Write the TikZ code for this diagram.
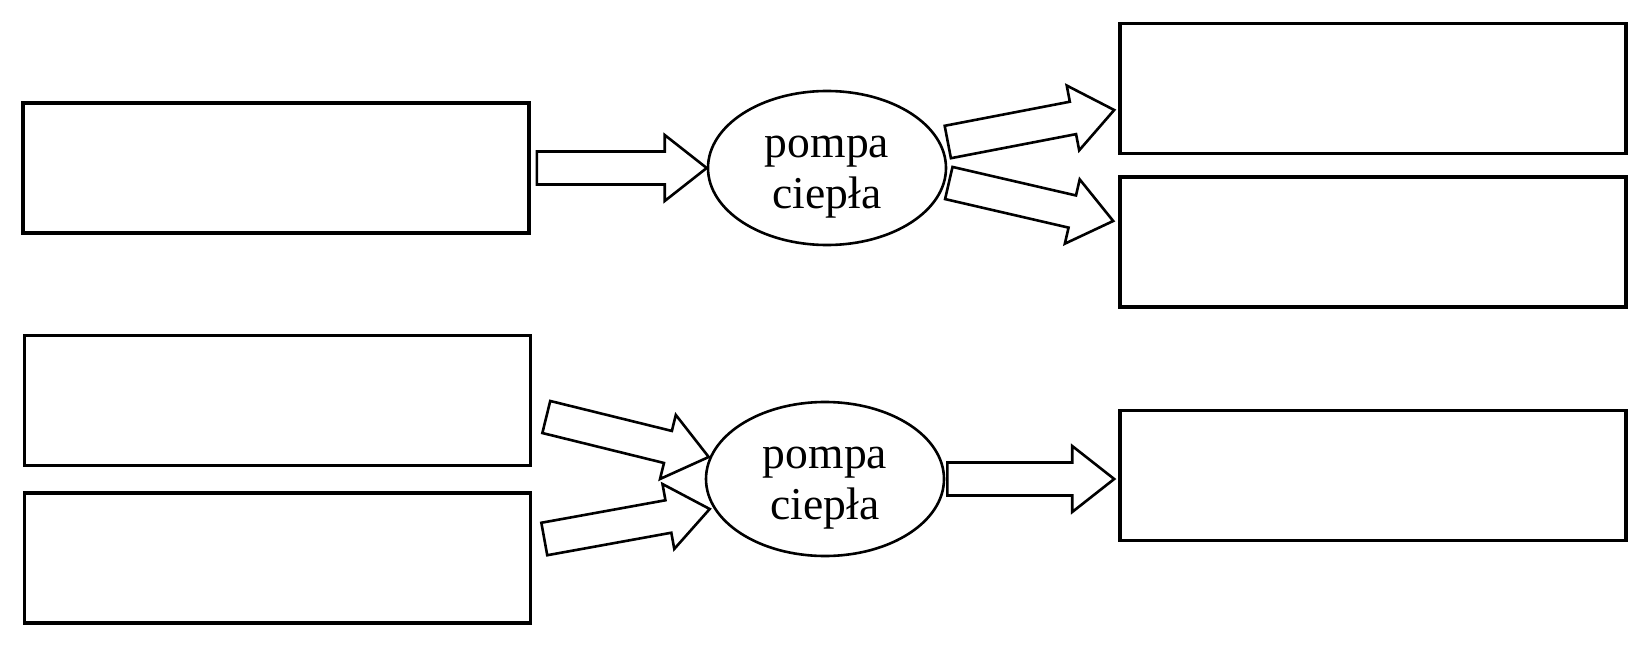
\documentclass[tikz,border=0pt]{standalone}
\usepackage{fontspec}
\setmainfont{Liberation Serif}
\usetikzlibrary{calc,shapes.geometric}

\tikzset{
  emptybox/.style={draw,line width=1.8pt,minimum width=253pt,minimum height=65pt,inner sep=0pt},
  pump/.style={draw,ellipse,line width=1.3pt,minimum width=119pt,minimum height=77pt,inner sep=0pt},
  pumptext/.style={align=center,font=\fontsize{22.8pt}{25.5pt}\selectfont,inner sep=0pt},
  fatarrow/.style={draw,line width=1.3pt,line join=miter}
}

% hollow block arrow from #1 to #2
\newcommand{\blockarrow}[2]{%
  \path (#1) coordinate (ba-t) (#2) coordinate (ba-h);
  \path ($(ba-h)!21pt!(ba-t)$) coordinate (ba-b);
  \draw[fatarrow] ($(ba-t)!8.25pt!90:(ba-h)$)
    -- ($(ba-b)!8.25pt!90:(ba-h)$)
    -- ($(ba-b)!16.5pt!90:(ba-h)$)
    -- (ba-h)
    -- ($(ba-b)!16.5pt!-90:(ba-h)$)
    -- ($(ba-b)!8.25pt!-90:(ba-h)$)
    -- ($(ba-t)!8.25pt!-90:(ba-h)$) -- cycle;}

\begin{document}
\begin{tikzpicture}[x=0.5pt,y=-0.5pt]
    \useasboundingbox (0,0) rectangle (1650,647);

    % upper scheme
    \node[emptybox] (in1) at (276,168) {};
    \node[pump] (pump1) at (827,168) {};
    \node[pumptext] (pump1txt) at ([yshift=-4.75pt]pump1.center) {pompa\\ciepła};
    \node[emptybox] (out1) at (1373,88.5) {};
    \node[emptybox] (out2) at (1373,242) {};
    \blockarrow{[xshift=3pt]in1.east}{pump1.west}
    \blockarrow{$(pump1.east)+(0.5,-26)$}{$(out1.west)+(-4,21.5)$}
    \blockarrow{$(pump1.east)+(1.5,15)$}{$(out2.west)+(-5,-21)$}

    % lower scheme
    \node[emptybox] (in2) at (277.5,400.5) {};
    \node[emptybox] (in3) at (277.5,558) {};
    \node[pump] (pump2) at (825,479) {};
    \node[pumptext] (pump2txt) at ([yshift=-4.75pt]pump2.center) {pompa\\ciepła};
    \node[emptybox] (out3) at (1373,475.5) {};
    \blockarrow{$(in2.east)+(14,16.5)$}{$(pump2.west)+(4,-22)$}
    \blockarrow{$(in3.east)+(12,-19)$}{$(pump2.west)+(5,30)$}
    \blockarrow{[xshift=1pt]pump2.east}{[xshift=-2pt]pump2.east -| out3.west}
\end{tikzpicture}
\end{document}
